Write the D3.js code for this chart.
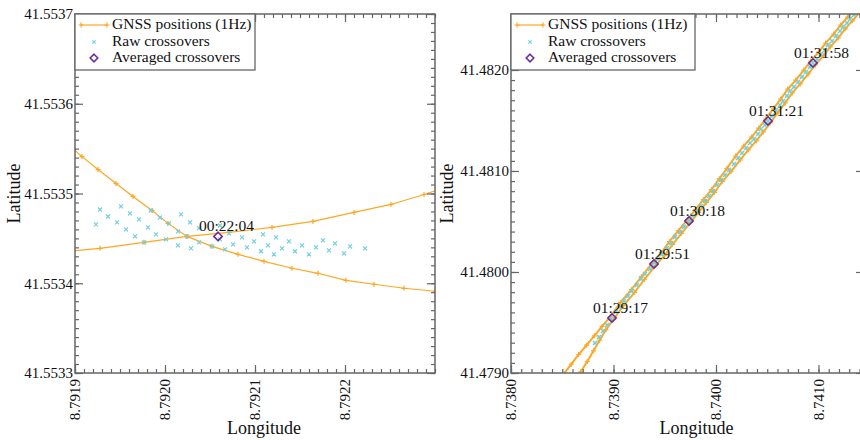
<!DOCTYPE html>
<html>
<head>
<meta charset="utf-8">
<script src="https://cdn.jsdelivr.net/npm/d3@7"></script>
<style>
body { margin: 0; background: #fff; }
svg { display: block; font-family: "Liberation Serif", "DejaVu Serif", serif; }
</style>
</head>
<body>
<svg id="chart" width="860" height="440"></svg>
<script>
var legendNames = ["GNSS positions (1Hz)", "Raw crossovers", "Averaged crossovers"];

/* ---- left panel (single crossover) ---- */
var lonTicksL = [8.7919, 8.7920, 8.7921, 8.7922];
var latTicksL = [41.5533, 41.5534, 41.5535, 41.5536, 41.5537];

var trackAlonL = [8.79189, 8.7919078, 8.7919256, 8.7919456, 8.7919644, 8.7919856, 8.7920033, 8.7920244, 8.7920522,
  8.7920811, 8.7921100, 8.7921411, 8.7921700, 8.7922011, 8.7922322, 8.7922656, 8.7923000];
var trackAlatL = [41.5535567, 41.5535411, 41.5535267, 41.5535111, 41.5534967, 41.5534811, 41.5534667, 41.5534522, 41.5534411,
  41.5534322, 41.5534244, 41.5534167, 41.5534111, 41.5534033, 41.5533989, 41.5533944, 41.5533911];

var trackBlonL = [8.7918800, 8.7919278, 8.7919767, 8.7920244, 8.7920711, 8.7921189, 8.7921644, 8.7922100, 8.7922511, 8.7922878, 8.7923278];
var trackBlatL = [41.5534344, 41.5534389, 41.5534456, 41.5534522, 41.5534567, 41.5534622, 41.5534689, 41.5534789, 41.5534878, 41.5534989, 41.5535122];

var rawLonL = [8.7919233, 8.7919278, 8.7919367, 8.7919467, 8.7919511, 8.7919567, 8.7919611, 8.7919667, 8.7919711, 8.7919767,
  8.7919811, 8.7919844, 8.7919900, 8.7919944, 8.7920011, 8.7920044, 8.7920144, 8.7920144, 8.7920178, 8.7920244,
  8.7920278, 8.7920289, 8.7920378, 8.7920378, 8.7920522, 8.7920611, 8.7920611, 8.7920667, 8.7920711, 8.7920756,
  8.7920856, 8.7920911, 8.7920989, 8.7921067, 8.7921089, 8.7921144, 8.7921211, 8.7921233, 8.7921300, 8.7921378,
  8.7921444, 8.7921522, 8.7921600, 8.7921678, 8.7921756, 8.7921822, 8.7921889, 8.7921989, 8.7922056, 8.7922222];
var rawLatL = [41.5534656, 41.5534822, 41.5534744, 41.5534678, 41.5534856, 41.5534600, 41.5534778, 41.5534522, 41.5534711, 41.5534456,
  41.5534622, 41.5534811, 41.5534544, 41.5534733, 41.5534489, 41.5534667, 41.5534422, 41.5534578, 41.5534767, 41.5534522,
  41.5534678, 41.5534389, 41.5534456, 41.5534611, 41.5534411, 41.5534489, 41.5534644, 41.5534378, 41.5534556, 41.5534433,
  41.5534511, 41.5534400, 41.5534467, 41.5534356, 41.5534544, 41.5534422, 41.5534322, 41.5534511, 41.5534389, 41.5534467,
  41.5534356, 41.5534422, 41.5534322, 41.5534400, 41.5534478, 41.5534367, 41.5534444, 41.5534333, 41.5534411, 41.5534389];

var avgLonL = [8.7920589];
var avgLatL = [41.5534522];
var avgTimeL = ["00:22:04"];

/* ---- right panel (five crossovers) ---- */
var lonTicksR = [8.7380, 8.7390, 8.7400, 8.7410];
var latTicksR = [41.4790, 41.4800, 41.4810, 41.4820];

var trackAlonR = [8.738516, 8.738588, 8.738660, 8.738737, 8.738813, 8.738888, 8.738970, 8.739067, 8.739175, 8.739272,
  8.739380, 8.739467, 8.739545, 8.739633, 8.739721, 8.739799, 8.739877, 8.739955, 8.740033, 8.740107,
  8.740192, 8.740270, 8.740348, 8.740417, 8.740485, 8.740563, 8.740631, 8.740700, 8.740778, 8.740856,
  8.740924, 8.741002, 8.741070, 8.741148, 8.741217, 8.741285, 8.741353, 8.741421];
var trackAlatR = [41.478991, 41.479087, 41.479183, 41.479275, 41.479368, 41.479461, 41.479557, 41.479696, 41.479825, 41.479953,
  41.480092, 41.480191, 41.480300, 41.480409, 41.480518, 41.480617, 41.480716, 41.480815, 41.480924, 41.481026,
  41.481148, 41.481247, 41.481336, 41.481425, 41.481514, 41.481623, 41.481712, 41.481811, 41.481900, 41.481999,
  41.482088, 41.482177, 41.482266, 41.482355, 41.482445, 41.482524, 41.482603, 41.482682];

var trackBlonR = [8.738616, 8.738680, 8.738744, 8.738805, 8.738865, 8.738927, 8.739001, 8.739099, 8.739206, 8.739303,
  8.739411, 8.739499, 8.739577, 8.739664, 8.739752, 8.739830, 8.739908, 8.739986, 8.740064, 8.740146,
  8.740237, 8.740315, 8.740393, 8.740461, 8.740530, 8.740608, 8.740676, 8.740744, 8.740822, 8.740900,
  8.740969, 8.741047, 8.741115, 8.741193, 8.741261, 8.741330, 8.741398, 8.741466];
var trackBlatR = [41.478910, 41.479012, 41.479114, 41.479220, 41.479325, 41.479430, 41.479532, 41.479670, 41.479799, 41.479928,
  41.480066, 41.480165, 41.480274, 41.480383, 41.480492, 41.480591, 41.480690, 41.480789, 41.480898, 41.480994,
  41.481110, 41.481209, 41.481298, 41.481387, 41.481476, 41.481585, 41.481674, 41.481773, 41.481862, 41.481961,
  41.482050, 41.482140, 41.482229, 41.482318, 41.482407, 41.482486, 41.482565, 41.482645];

var rawLonR = [8.738820, 8.738859, 8.738898, 8.738937, 8.738976, 8.739024, 8.739063, 8.739102, 8.739141, 8.739180,
  8.739229, 8.739268, 8.739307, 8.739356, 8.739395, 8.739434, 8.739473, 8.739522, 8.739561, 8.739600,
  8.739649, 8.739688, 8.739737, 8.739776, 8.739815, 8.739854, 8.739893, 8.739932, 8.739971, 8.740010,
  8.740049, 8.740088, 8.740127, 8.740176, 8.740215, 8.740254, 8.740293, 8.740332, 8.740371, 8.740410,
  8.740439, 8.740478, 8.740507, 8.740546, 8.740585, 8.740624, 8.740654, 8.740693, 8.740722, 8.740761,
  8.740800, 8.740839, 8.740878, 8.740917, 8.740946, 8.740985, 8.741024, 8.741063, 8.741093, 8.741132,
  8.741171, 8.741210, 8.741239, 8.741278, 8.741307, 8.741346, 8.741376];
var rawLatR = [41.479297, 41.479356, 41.479416, 41.479475, 41.479535, 41.479604, 41.479653, 41.479713, 41.479762, 41.479812,
  41.479871, 41.479931, 41.479980, 41.480030, 41.480089, 41.480129, 41.480178, 41.480238, 41.480287, 41.480347,
  41.480396, 41.480446, 41.480505, 41.480554, 41.480604, 41.480653, 41.480703, 41.480752, 41.480802, 41.480861,
  41.480911, 41.480960, 41.481010, 41.481069, 41.481129, 41.481178, 41.481228, 41.481277, 41.481317, 41.481366,
  41.481416, 41.481455, 41.481495, 41.481545, 41.481604, 41.481653, 41.481693, 41.481743, 41.481792, 41.481832,
  41.481881, 41.481931, 41.481980, 41.482030, 41.482069, 41.482109, 41.482158, 41.482198, 41.482248, 41.482287,
  41.482337, 41.482386, 41.482426, 41.482465, 41.482505, 41.482545, 41.482584];

var avgLonR = [8.7389854, 8.7393951, 8.7397366, 8.7405073, 8.7409463];
var avgLatR = [41.4795446, 41.4800792, 41.4805050, 41.4814950, 41.4820693];
var avgTimeR = ["01:29:17", "01:29:51", "01:30:18", "01:31:21", "01:31:58"];

var orange = "#ffa722";
var cyan = "#6fd0de";
var purple = "#6a2f9c";
var frameCol = "#666";

var svg = d3.select("#chart");

var plusPath = "M-2.5,0H2.5M0,-2.5V2.5";
var crossPath = "M-2,-2L2,2M-2,2L2,-2";
var diamondPath = "M0,-4.2L4.2,0L0,4.2L-4.2,0Z";

function zip(a, b) { return a.map(function(v, i) { return [v, b[i]]; }); }

function minorTicks(domain, step) {
  var lo = Math.ceil(domain[0] / step - 1e-6), hi = Math.floor(domain[1] / step + 1e-6);
  return d3.range(lo, hi + 1).map(function(i) { return i * step; });
}

function drawPanel(p) {
  var x = d3.scaleLinear().domain(p.lonDomain).range([p.left, p.right]);
  var y = d3.scaleLinear().domain(p.latDomain).range([p.bottom, p.top]);
  var g = svg.append("g");

  g.append("clipPath").attr("id", p.id + "clip")
    .append("rect")
    .attr("x", p.left).attr("y", p.top)
    .attr("width", p.right - p.left).attr("height", p.bottom - p.top);

  var plot = g.append("g").attr("clip-path", "url(#" + p.id + "clip)");

  var line = d3.line().x(function(d) { return x(d[0]); }).y(function(d) { return y(d[1]); });

  /* GNSS tracks */
  p.tracks.forEach(function(tr) {
    plot.append("path")
      .datum(tr)
      .attr("fill", "none")
      .attr("stroke", orange)
      .attr("stroke-width", p.trackWidth)
      .attr("d", line);
    plot.append("g").selectAll("path")
      .data(tr)
      .join("path")
      .attr("transform", function(d) { return "translate(" + x(d[0]) + "," + y(d[1]) + ")"; })
      .attr("d", plusPath)
      .attr("stroke", orange)
      .attr("stroke-width", 1.2);
  });

  /* raw crossovers */
  plot.append("g").selectAll("path")
    .data(p.raw)
    .join("path")
    .attr("transform", function(d) { return "translate(" + x(d[0]) + "," + y(d[1]) + ")"; })
    .attr("d", crossPath)
    .attr("stroke", cyan)
    .attr("stroke-width", p.rawWidth);

  /* averaged crossovers + time labels */
  plot.append("g").selectAll("path")
    .data(p.avg)
    .join("path")
    .attr("transform", function(d) { return "translate(" + x(d[0]) + "," + y(d[1]) + ")"; })
    .attr("d", diamondPath)
    .attr("fill", "none")
    .attr("stroke", purple)
    .attr("stroke-width", 1.6);

  g.append("g").selectAll("text")
    .data(p.avg)
    .join("text")
    .attr("x", function(d) { return x(d[0]) - 19; })
    .attr("y", function(d) { return y(d[1]) - 5; })
    .attr("font-size", 15.5)
    .attr("fill", "#111")
    .text(function(d) { return d[2]; });

  /* ticks on all four sides, pointing inwards */
  var tickGroups = [
    [d3.axisBottom(x), "translate(0," + p.bottom + ")", p.lonTicks, minorTicks(p.lonDomain, p.lonMinor)],
    [d3.axisTop(x), "translate(0," + p.top + ")", p.lonTicks, minorTicks(p.lonDomain, p.lonMinor)],
    [d3.axisLeft(y), "translate(" + p.left + ",0)", p.latTicks, minorTicks(p.latDomain, p.latMinor)],
    [d3.axisRight(y), "translate(" + p.right + ",0)", p.latTicks, minorTicks(p.latDomain, p.latMinor)]
  ];
  tickGroups.forEach(function(t) {
    [[t[2], -8], [t[3], -4]].forEach(function(s) {
      var ax = g.append("g")
        .attr("transform", t[1])
        .call(t[0].tickValues(s[0]).tickSize(s[1]).tickSizeOuter(0).tickFormat(""));
      ax.select(".domain").remove();
      ax.selectAll("line").attr("stroke", frameCol).attr("stroke-width", 1.2);
    });
  });

  g.append("rect")
    .attr("x", p.left).attr("y", p.top)
    .attr("width", p.right - p.left).attr("height", p.bottom - p.top)
    .attr("fill", "none")
    .attr("stroke", frameCol)
    .attr("stroke-width", 1.5);

  var fmt = d3.format(".4f");

  g.append("g").selectAll("text")
    .data(p.latTicks)
    .join("text")
    .attr("x", p.left - 2)
    .attr("y", function(d) { return y(d); })
    .attr("dy", "0.35em")
    .attr("text-anchor", "end")
    .attr("font-size", 15)
    .attr("fill", "#111")
    .text(fmt);

  g.append("g").selectAll("text")
    .data(p.lonTicks)
    .join("text")
    .attr("transform", function(d) { return "translate(" + x(d) + "," + (p.bottom + 6) + ") rotate(-90)"; })
    .attr("dy", "0.35em")
    .attr("text-anchor", "end")
    .attr("font-size", 15)
    .attr("fill", "#111")
    .text(fmt);

  g.append("text")
    .attr("x", (p.left + p.right) / 2 + 9)
    .attr("y", 434)
    .attr("text-anchor", "middle")
    .attr("font-size", 18)
    .attr("fill", "#111")
    .text("Longitude");

  g.append("text")
    .attr("transform", "translate(" + p.latTitleX + "," + ((p.top + p.bottom) / 2) + ") rotate(-90)")
    .attr("dy", "0.35em")
    .attr("text-anchor", "middle")
    .attr("font-size", 18)
    .attr("fill", "#111")
    .text("Latitude");

  /* legend */
  var lg = g.append("g").attr("transform", "translate(" + p.left + "," + p.top + ")");
  lg.append("rect")
    .attr("width", p.legendW).attr("height", 56)
    .attr("fill", "#fff")
    .attr("stroke", frameCol)
    .attr("stroke-width", 1.3);
  lg.append("line")
    .attr("x1", 6).attr("x2", 32).attr("y1", 11).attr("y2", 11)
    .attr("stroke", orange).attr("stroke-width", 1.2);
  lg.selectAll(".lplus")
    .data([6, 32])
    .join("path")
    .attr("class", "lplus")
    .attr("transform", function(d) { return "translate(" + d + ",11)"; })
    .attr("d", plusPath)
    .attr("stroke", orange).attr("stroke-width", 1.2);
  lg.append("path")
    .attr("transform", "translate(19,28)")
    .attr("d", "M-1.6,-1.6L1.6,1.6M-1.6,1.6L1.6,-1.6")
    .attr("stroke", cyan).attr("stroke-width", 1.2);
  lg.append("path")
    .attr("transform", "translate(19,44)")
    .attr("d", "M0,-3.8L3.8,0L0,3.8L-3.8,0Z")
    .attr("fill", "none")
    .attr("stroke", purple).attr("stroke-width", 1.6);
  lg.selectAll("text")
    .data(legendNames)
    .join("text")
    .attr("x", 37)
    .attr("y", function(d, i) { return [15, 32, 48][i]; })
    .attr("font-size", 15.5)
    .attr("fill", "#111")
    .text(function(d) { return d; });
}

drawPanel({
  id: "left",
  left: 75, right: 435, top: 14, bottom: 373,
  lonDomain: [8.7919, 8.7923], latDomain: [41.5533, 41.5537],
  lonTicks: lonTicksL, latTicks: latTicksL,
  lonMinor: 0.00001, latMinor: 0.00001,
  tracks: [zip(trackAlonL, trackAlatL), zip(trackBlonL, trackBlatL)],
  raw: zip(rawLonL, rawLatL),
  avg: avgLonL.map(function(v, i) { return [v, avgLatL[i], avgTimeL[i]]; }),
  trackWidth: 1.2, rawWidth: 1.2,
  latTitleX: 14, legendW: 180
});

drawPanel({
  id: "right",
  left: 511, right: 864, top: 14, bottom: 373,
  lonDomain: [8.7380, 8.741444], latDomain: [41.4790, 41.482554],
  lonTicks: lonTicksR, latTicks: latTicksR,
  lonMinor: 0.0001, latMinor: 0.0001,
  tracks: [zip(trackAlonR, trackAlatR), zip(trackBlonR, trackBlatR)],
  raw: zip(rawLonR, rawLatR),
  avg: avgLonR.map(function(v, i) { return [v, avgLatR[i], avgTimeR[i]]; }),
  trackWidth: 2, rawWidth: 1.6,
  latTitleX: 447, legendW: 184
});
</script>
</body>
</html>
